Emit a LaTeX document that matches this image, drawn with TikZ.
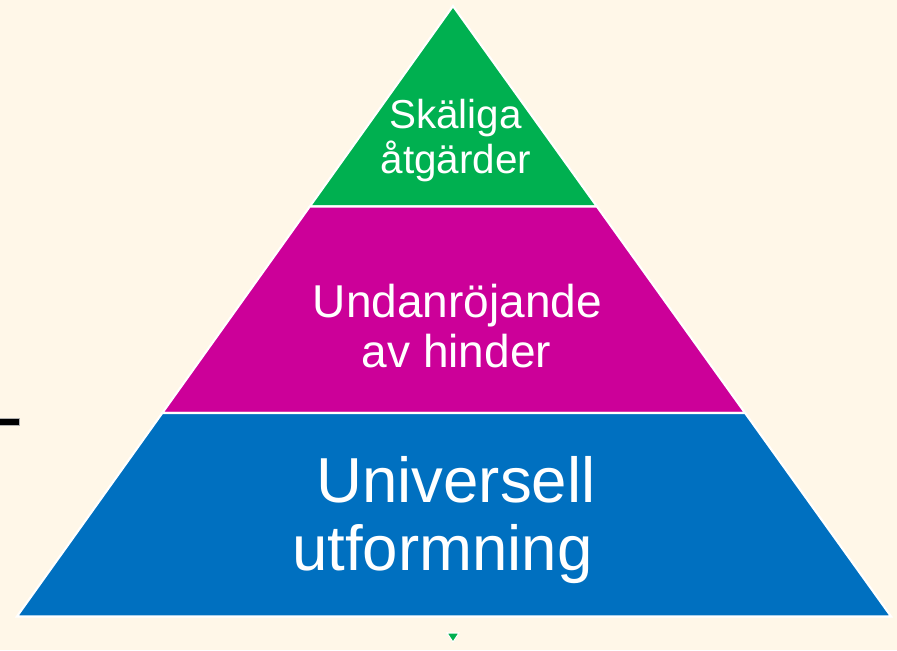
\documentclass[tikz,border=0pt]{standalone}
\usepackage{fontspec}
\setmainfont{Liberation Sans}

\definecolor{paper}{RGB}{255,247,232}
\definecolor{topgreen}{RGB}{0,176,80}
\definecolor{midmagenta}{RGB}{204,0,153}
\definecolor{basblue}{RGB}{0,112,192}

\begin{document}
\begin{tikzpicture}[x=0.02cm, y=-0.02cm]
        \fill[paper] (0,0) rectangle (897,650);
        \useasboundingbox (0,0) rectangle (897,650);
        % corners of the bands
        \coordinate (apex) at (453,6);
        \coordinate (gl) at (309.8,206.5);
        \coordinate (gr) at (596.9,206.5);
        \coordinate (ml) at (162.3,413);
        \coordinate (mr) at (745.1,413);
        \coordinate (bl) at (16.9,616.5);
        \coordinate (br) at (891.1,616.5);
        \begin{scope}[every path/.style={draw=white, line width=1.2pt, line join=miter}]
                \filldraw[fill=topgreen] (apex) -- (gr) -- (gl) -- cycle;
                \filldraw[fill=midmagenta] (gl) -- (gr) -- (mr) -- (ml) -- cycle;
                \filldraw[fill=basblue] (ml) -- (mr) -- (br) -- (bl) -- cycle;
        \end{scope}
        \filldraw[draw=white, fill=topgreen, line width=0.6pt] (447,633) -- (459,633) -- (453,642) -- cycle;
        \filldraw[draw=black!30, fill=black, line width=0.4pt] (-1,418) rectangle (19,425);
        \begin{scope}[every node/.style={text=white, anchor=base, inner sep=0}]
                \node[font=\fontsize{23}{27}\selectfont] (sk1) at (455.5,128) {Skäliga};
                \node[font=\fontsize{23}{27}\selectfont] (sk2) at (456,173) {åtgärder};
                \node[font=\fontsize{26.2}{31}\selectfont] (un1) at (457.5,317) {Undanröjande};
                \node[font=\fontsize{26.2}{31}\selectfont] (un2) at (456.5,367) {av hinder};
                \node[font=\fontsize{36.2}{43}\selectfont] (uf1) at (456,502) {Universell};
                \node[font=\fontsize{36.2}{43}\selectfont] (uf2) at (442.5,570) {utformning};
        \end{scope}
\end{tikzpicture}
\end{document}
